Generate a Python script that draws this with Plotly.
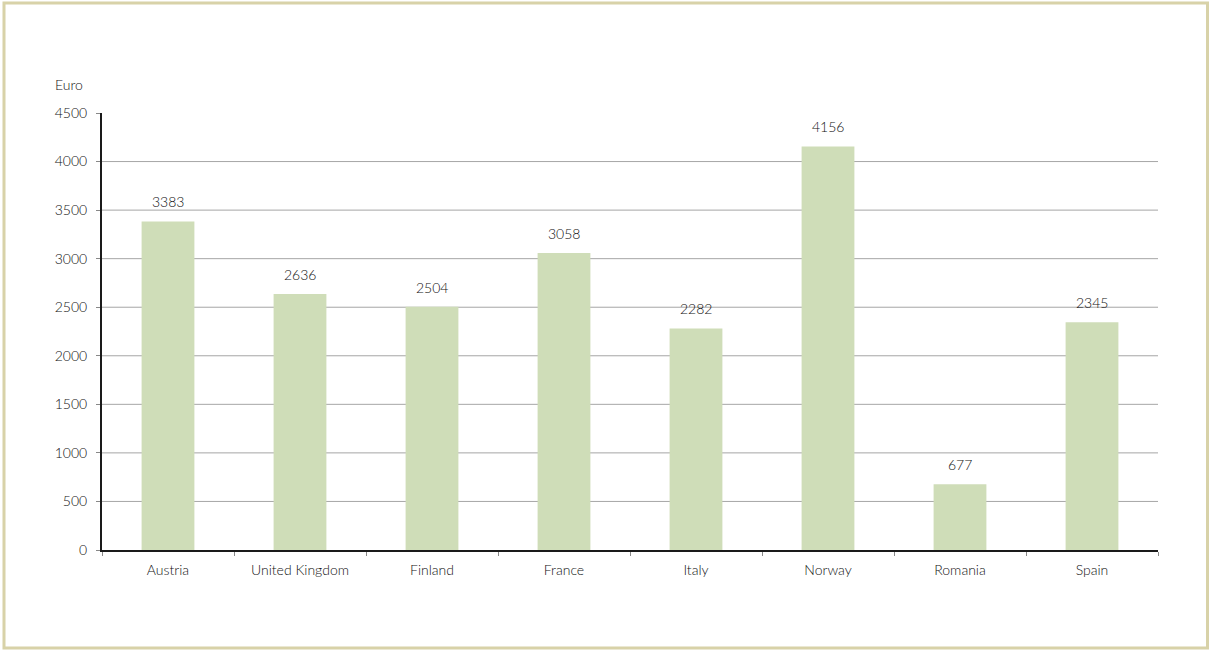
import plotly.graph_objects as go

countries = ["Austria", "United Kingdom", "Finland", "France", "Italy", "Norway", "Romania", "Spain"]
values = [3383, 2636, 2504, 3058, 2282, 4156, 677, 2345]
y_ticks = [0, 500, 1000, 1500, 2000, 2500, 3000, 3500, 4000, 4500]
grid_vals = [500, 1000, 1500, 2000, 2500, 3000, 3500, 4000]

FONT = "Lato, 'Open Sans', sans-serif"
TXT = "#111111"
FW = 300

fig = go.Figure(go.Bar(
    x=countries, y=values,
    marker=dict(color="#CFDDB8", line=dict(width=0)),
    width=0.4,
    hoverinfo="x+y",
))

L, R, T, B = 102, 52, 113, 101
W, H = 1210, 651
pw, ph = W - L - R, H - T - B

shapes = []
for g in grid_vals:
    shapes.append(dict(type="line", xref="paper", yref="y", x0=0, x1=1, y0=g, y1=g,
                       line=dict(color="#A6A6A6", width=1), layer="below"))
# outer border
shapes.append(dict(type="rect", xref="paper", yref="paper",
                   x0=(4 - L) / pw, x1=(1207.5 - L) / pw,
                   y0=(H - B - 648) / ph, y1=(H - B - 3) / ph,
                   line=dict(color="#D8D2A8", width=3), fillcolor="rgba(0,0,0,0)"))

annotations = [dict(text="Euro", xref="paper", yref="paper",
                    x=(53 - L) / pw, y=(H - B - 84) / ph, xanchor="left", yanchor="middle",
                    showarrow=False, font=dict(family=FONT, size=14, color=TXT, weight=FW))]
for c, v in zip(countries, values):
    annotations.append(dict(text=str(v), x=c, y=v, xref="x", yref="y",
                            xanchor="center", yanchor="bottom", yshift=9,
                            showarrow=False,
                            font=dict(family=FONT, size=14, color=TXT, weight=FW)))

fig.update_layout(
    width=W, height=H,
    margin=dict(l=L, r=R, t=T, b=B),
    paper_bgcolor="white", plot_bgcolor="white",
    showlegend=False,
    font=dict(family=FONT, size=14, color=TXT, weight=FW),
    shapes=shapes,
    annotations=annotations,
    xaxis=dict(showline=True, linecolor="#1a1a1a", linewidth=2, color=TXT,
               ticks="outside", tickson="boundaries", ticklen=4, tickcolor="#888888",
               ticklabelstandoff=6,
               showgrid=False, tickfont=dict(family=FONT, size=14, color=TXT, weight=FW)),
    yaxis=dict(range=[0, 4500], tickvals=y_ticks, showgrid=False, color=TXT,
               showline=True, linecolor="#1a1a1a", linewidth=2,
               ticks="outside", ticklen=4, tickcolor="#888888",
               ticklabelstandoff=6,
               zeroline=False, tickfont=dict(family=FONT, size=14, color=TXT, weight=FW)),
)

fig.write_html("out.html", config={"displayModeBar": False},
               post_script="document.body.style.margin='0';document.body.style.overflow='hidden';")
